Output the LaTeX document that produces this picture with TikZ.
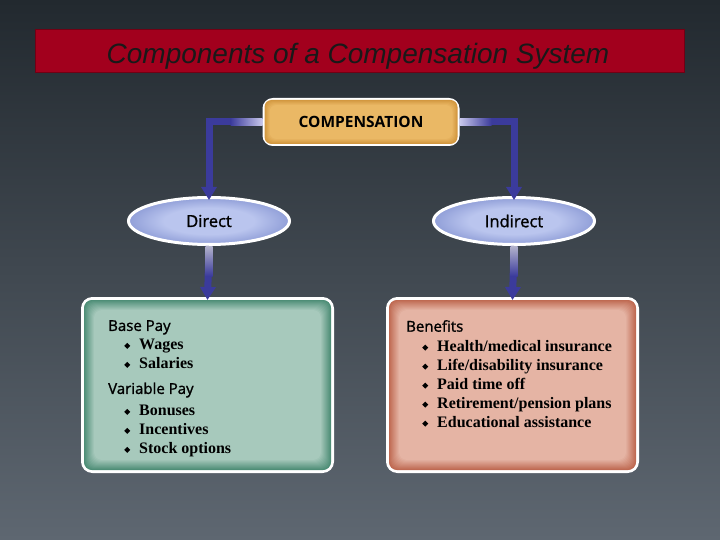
\documentclass[tikz,border=0pt]{standalone}
\usepackage{fontspec}
\setmainfont{Open Sans}
\newfontfamily\hdrfont[FakeBold=1.3]{Open Sans}
\newfontfamily\titlefont{Liberation Sans}
\newfontfamily\itemfont{Liberation Serif}
\usepackage{tikz}
\usetikzlibrary{positioning,shapes.geometric,arrows.meta,calc}

\definecolor{bgtop}{HTML}{22292F}
\definecolor{bgbot}{HTML}{5E6771}
\definecolor{titlered}{HTML}{A2001D}
\definecolor{compfill}{HTML}{EAB865}
\definecolor{compedge}{HTML}{D39840}
\definecolor{arrowblue}{HTML}{3B3B9C}
\definecolor{arrowpale}{HTML}{C9C9EC}
\definecolor{ellin}{HTML}{BAC5EE}
\definecolor{ellout}{HTML}{7A8ACC}
\definecolor{greenin}{HTML}{A7C9BC}
\definecolor{greenout}{HTML}{4E8E77}
\definecolor{salmonin}{HTML}{E5B4A4}
\definecolor{salmonout}{HTML}{BF6A52}

\pgfdeclareradialshading{ellshade}{\pgfpoint{0bp}{0bp}}{color(0bp)=(ellin); color(14bp)=(ellin); color(31bp)=(ellout); color(50bp)=(ellout)}

\newcommand{\hdr}[1]{{\hdrfont\fontsize{15}{19}\selectfont #1}}
\newcommand{\itm}[1]{\hspace*{16pt}\makebox[15pt][l]{\raisebox{1pt}{\rotatebox{45}{\rule{4.3pt}{4.3pt}}}}{\itemfont\bfseries #1}}

\begin{document}
\begin{tikzpicture}[x=1pt,y=-1pt,
  every node/.style={inner sep=0pt},
  ovalbox/.style={draw=white, line width=3pt, ellipse, minimum width=161pt, minimum height=47pt, shading=ellshade, font=\hdrfont\fontsize{16.5}{19}\selectfont},
  listbox/.style={draw=white, line width=3pt, rounded corners=10pt, minimum width=250pt, minimum height=173pt},
  listtext/.style={anchor=north west, align=left, font=\fontsize{16}{19}\selectfont},
  flow/.style={draw=arrowblue, line width=7pt, -{Triangle[width=15pt,length=13pt]}}]
  \shade[top color=bgtop, bottom color=bgbot] (0,0) rectangle (720,540);
  \useasboundingbox (0,0) rectangle (720,540);

  % title bar
  \node[draw=titlered!70!black, line width=1pt, fill=titlered, minimum width=649pt, minimum height=43pt] (titlebar) at (360,51.5) {};
  \node[font=\titlefont\itshape\fontsize{28}{30}\selectfont, text=black!90] (title) at (358,56) {Components of a Compensation System};

  % top of the tree
  \node[draw=white, line width=3pt, rounded corners=9pt, fill=compedge, minimum width=194pt, minimum height=45pt] (comp) at (361,122) {};
  \foreach \d in {2,...,7} {
    \pgfmathtruncatemacro\p{(\d-2)*20}
    \fill[rounded corners=7pt, compfill!\p!compedge] ($(comp.north west)+(\d,\d)$) rectangle ($(comp.south east)+(-\d,-\d)$);
  }
  \node[font=\bfseries\fontsize{15.5}{18}\selectfont] (comptext) at (comp) {COMPENSATION};

  \node[ovalbox] (direct) at (209,221) {Direct};
  \node[ovalbox] (indirect) at (514,221) {Indirect};

  % lists
  \node[listbox, fill=greenout] (paybox) at (207.5,385) {};
  \node[listbox, fill=salmonout] (benbox) at (512.5,385) {};
  \foreach \d in {3,...,13} {
    \pgfmathtruncatemacro\p{(\d-3)*10}
    \fill[rounded corners=8pt, greenin!\p!greenout] ($(paybox.north west)+(\d,\d)$) rectangle ($(paybox.south east)+(-\d,-\d)$);
    \fill[rounded corners=8pt, salmonin!\p!salmonout] ($(benbox.north west)+(\d,\d)$) rectangle ($(benbox.south east)+(-\d,-\d)$);
  }

  \node[listtext] (paytext) at ($(paybox.north west)+(27,23)$) {\hdr{Base Pay}\\ \itm{Wages}\\ \itm{Salaries}\\[6pt]
    \hdr{Variable Pay}\\[3pt] \itm{Bonuses}\\ \itm{Incentives}\\ \itm{Stock options}};
  \node[listtext] (bentext) at ($(benbox.north west)+(20,23)$) {\hdr{Benefits}\\[1pt] \itm{Health/medical insurance}\\ \itm{Life/disability insurance}\\
    \itm{Paid time off}\\ \itm{Retirement/pension plans}\\ \itm{Educational assistance}};

  % connectors
  \draw[flow] (comp.west) -| ([yshift=-4pt]direct.north);
  \draw[flow] (comp.east) -| ([yshift=-4pt]indirect.north);
  \draw[flow] (direct.south) -- ([yshift=-3pt]paybox.north);
  \draw[flow] (indirect.south) -- ([yshift=-3pt]benbox.north);

  % fading ends
  \shade[left color=arrowblue, right color=arrowpale] ($(comp.west)+(-32,-3.5)$) rectangle ($(comp.west)+(0,3.5)$);
  \shade[left color=arrowpale, right color=arrowblue] ($(comp.east)+(0,-3.5)$) rectangle ($(comp.east)+(32,3.5)$);
  \shade[top color=arrowpale!70!gray, bottom color=arrowblue] ($(direct.south)+(-3.5,0)$) rectangle ($(direct.south)+(3.5,30)$);
  \shade[top color=arrowpale!70!gray, bottom color=arrowblue] ($(indirect.south)+(-3.5,0)$) rectangle ($(indirect.south)+(3.5,30)$);
\end{tikzpicture}
\end{document}
